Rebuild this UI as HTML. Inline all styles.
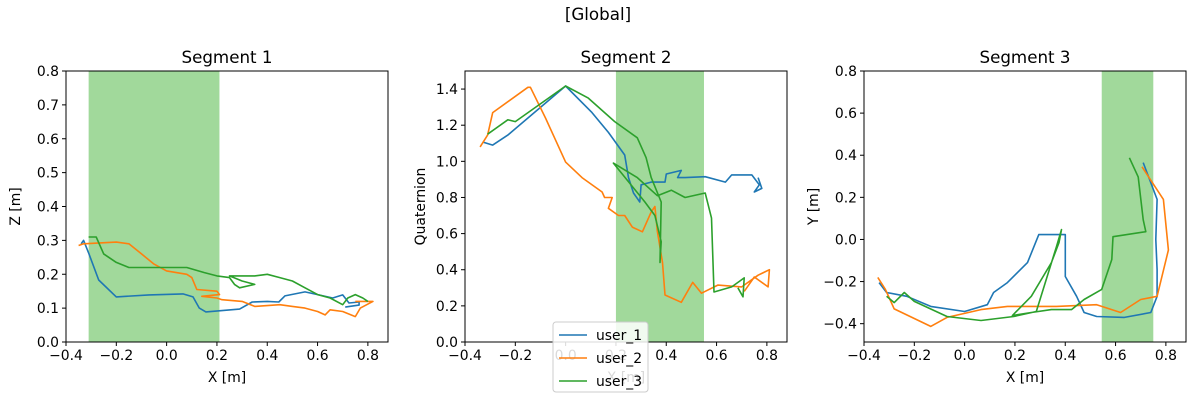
<!DOCTYPE html>
<html><head><meta charset="utf-8"><style>
body{margin:0;background:#fff;}
svg{display:block;font-family:"DejaVu Sans","Liberation Sans",sans-serif;}
</style></head><body>
<svg id="fig" width="1200" height="400" xmlns="http://www.w3.org/2000/svg">
<text x="598" y="20" font-size="16.7" text-anchor="middle">[Global]</text>
</svg>
<script>
const xTicks=[-0.4,-0.2,0.0,0.2,0.4,0.6,0.8];
const yTicks1=[0.0,0.1,0.2,0.3,0.4,0.5,0.6,0.7,0.8];
const yTicks2=[0.0,0.2,0.4,0.6,0.8,1.0,1.2,1.4];
const yTicks3=[-0.4,-0.2,0.0,0.2,0.4,0.6,0.8];
const seriesNames=["user_1","user_2","user_3"];
const colors=["#1f77b4","#ff7f0e","#2ca02c"];
const spans=[[-0.31,0.21],[0.2,0.55],[0.545,0.75]];
const s1u1=[[-0.34,0.29],[-0.33,0.3],[-0.31,0.263],[-0.27,0.183],[-0.2,0.133],[-0.07,0.139],[0.065,0.142],[0.105,0.133],[0.13,0.1],[0.156,0.089],[0.29,0.097],[0.34,0.118],[0.4,0.12],[0.446,0.118],[0.47,0.136],[0.55,0.148],[0.605,0.139],[0.66,0.13],[0.7,0.139],[0.725,0.115],[0.765,0.118],[0.765,0.109],[0.71,0.103]];
const s1u2=[[-0.35,0.285],[-0.33,0.29],[-0.2,0.295],[-0.15,0.29],[-0.1,0.26],[-0.05,0.23],[0.0,0.21],[0.08,0.2],[0.1,0.19],[0.12,0.155],[0.2,0.15],[0.21,0.14],[0.14,0.135],[0.2,0.13],[0.22,0.125],[0.3,0.12],[0.35,0.105],[0.45,0.11],[0.5,0.105],[0.55,0.1],[0.6,0.09],[0.63,0.08],[0.65,0.095],[0.7,0.09],[0.75,0.075],[0.77,0.1],[0.82,0.12],[0.75,0.12]];
const s1u3=[[-0.31,0.31],[-0.28,0.31],[-0.25,0.26],[-0.2,0.235],[-0.15,0.22],[0.0,0.22],[0.08,0.22],[0.15,0.205],[0.2,0.195],[0.25,0.19],[0.27,0.17],[0.29,0.16],[0.35,0.17],[0.3,0.18],[0.25,0.195],[0.35,0.195],[0.4,0.2],[0.45,0.19],[0.5,0.18],[0.55,0.16],[0.6,0.14],[0.65,0.13],[0.7,0.11],[0.72,0.13],[0.75,0.14],[0.78,0.13],[0.8,0.12]];
const s2u1=[[-0.33,1.107],[-0.29,1.09],[-0.23,1.145],[0.0,1.417],[0.105,1.27],[0.17,1.16],[0.235,1.035],[0.25,0.91],[0.27,0.825],[0.295,0.775],[0.3,0.87],[0.34,0.885],[0.395,0.885],[0.4,0.93],[0.46,0.95],[0.445,0.91],[0.475,0.91],[0.555,0.915],[0.635,0.885],[0.66,0.925],[0.74,0.925],[0.77,0.87],[0.75,0.83],[0.78,0.85],[0.765,0.91]];
const s2u2=[[-0.34,1.08],[-0.31,1.145],[-0.29,1.27],[-0.15,1.41],[-0.14,1.41],[-0.08,1.24],[0.0,0.996],[0.065,0.91],[0.145,0.83],[0.155,0.8],[0.185,0.8],[0.17,0.74],[0.21,0.7],[0.235,0.7],[0.265,0.636],[0.305,0.61],[0.34,0.72],[0.355,0.75],[0.365,0.61],[0.385,0.44],[0.395,0.26],[0.46,0.22],[0.505,0.33],[0.54,0.27],[0.605,0.315],[0.7,0.305],[0.765,0.37],[0.81,0.4],[0.805,0.305],[0.75,0.36],[0.71,0.28]];
const s2u3=[[-0.31,1.15],[-0.23,1.23],[-0.2,1.22],[0.0,1.417],[0.09,1.35],[0.195,1.22],[0.285,1.13],[0.32,1.02],[0.34,0.91],[0.38,0.775],[0.375,0.44],[0.38,0.555],[0.355,0.7],[0.315,0.775],[0.19,0.99],[0.285,0.91],[0.365,0.81],[0.42,0.84],[0.475,0.8],[0.555,0.825],[0.58,0.686],[0.59,0.277],[0.66,0.305],[0.71,0.355],[0.705,0.25],[0.685,0.3]];
const s3u1=[[-0.34,-0.205],[-0.31,-0.252],[-0.23,-0.27],[-0.135,-0.318],[0.0,-0.342],[0.09,-0.31],[0.115,-0.252],[0.17,-0.205],[0.25,-0.11],[0.295,0.023],[0.4,0.023],[0.4,-0.176],[0.445,-0.27],[0.475,-0.347],[0.525,-0.366],[0.635,-0.37],[0.74,-0.347],[0.765,-0.27],[0.765,-0.143],[0.76,0.0],[0.765,0.19],[0.71,0.365]];
const s3u2=[[-0.345,-0.18],[-0.315,-0.237],[-0.28,-0.33],[-0.135,-0.413],[-0.07,-0.37],[0.065,-0.333],[0.17,-0.318],[0.365,-0.318],[0.525,-0.31],[0.62,-0.347],[0.7,-0.285],[0.765,-0.27],[0.81,-0.05],[0.79,0.19],[0.705,0.345]];
const s3u3=[[-0.31,-0.27],[-0.28,-0.3],[-0.24,-0.252],[-0.2,-0.294],[-0.07,-0.366],[0.065,-0.385],[0.195,-0.366],[0.285,-0.342],[0.365,-0.035],[0.385,0.047],[0.375,-0.015],[0.345,-0.11],[0.265,-0.27],[0.19,-0.361],[0.265,-0.347],[0.345,-0.333],[0.425,-0.333],[0.475,-0.285],[0.545,-0.237],[0.585,-0.095],[0.59,0.013],[0.72,0.037],[0.71,0.094],[0.69,0.297],[0.655,0.388]];

const NS="http://www.w3.org/2000/svg";
const svg=document.getElementById('fig');
function mk(tag,attrs,parent){const e=document.createElementNS(NS,tag);for(const k in attrs)e.setAttribute(k,attrs[k]);(parent||svg).appendChild(e);return e;}
const panels=[
 {left:66,title:"Segment 1",ylab:"Z [m]",yMin:0,yMax:0.8,yTicks:yTicks1,dec:1,data:[s1u1,s1u2,s1u3]},
 {left:465,title:"Segment 2",ylab:"Quaternion",yMin:0,yMax:1.5,yTicks:yTicks2,dec:1,data:[s2u1,s2u2,s2u3]},
 {left:864,title:"Segment 3",ylab:"Y [m]",yMin:-0.487,yMax:0.8,yTicks:yTicks3,dec:1,data:[s3u1,s3u2,s3u3]}
];
const plotTop=71,plotBottom=342,W=322,xMin=-0.4,xMax=0.88;
panels.forEach((p,i)=>{
 const g=mk('g',{});
 
 
 const X=v=>p.left+(v-xMin)/(xMax-xMin)*W;
 const Y=v=>plotBottom-(v-p.yMin)/(p.yMax-p.yMin)*(plotBottom-plotTop);
 const sp=mk('rect',{x:X(spans[i][0]),y:plotTop,width:X(spans[i][1])-X(spans[i][0]),height:plotBottom-plotTop,fill:'#a1d99b'},g);
 
 
 p.data.forEach((d,j)=>{
  const pl=mk('polyline',{points:d.map(q=>X(q[0]).toFixed(1)+','+Y(q[1]).toFixed(1)).join(' '),fill:'none',stroke:colors[j],'stroke-width':1.6,'stroke-linejoin':'round'},g);
  
  
 });
 const fr=mk('rect',{x:p.left,y:plotTop,width:W,height:plotBottom-plotTop,fill:'none',stroke:'#000','stroke-width':1},g);
 
 
 xTicks.forEach(t=>{
  const x=X(t);
  mk('line',{x1:x,x2:x,y1:plotBottom,y2:plotBottom+4,stroke:'#000'},g);
  const tx=mk('text',{x:x,y:plotBottom+18,'font-size':13.9,'text-anchor':'middle'},g);
  tx.textContent=(t<0?'−':'')+Math.abs(t).toFixed(1);
  
  
 });
 p.yTicks.forEach(t=>{
  const y=Y(t);
  mk('line',{x1:p.left-4,x2:p.left,y1:y,y2:y,stroke:'#000'},g);
  const tx=mk('text',{x:p.left-7,y:y+5,'font-size':13.9,'text-anchor':'end'},g);
  tx.textContent=(t<0?'−':'')+Math.abs(t).toFixed(p.dec);
  
  
 });
 const tt=mk('text',{x:p.left+W/2,y:63,'font-size':16.7,'text-anchor':'middle'},g);
 tt.textContent=p.title;
 
 
 const xl=mk('text',{x:p.left+W/2,y:382,'font-size':13.9,'text-anchor':'middle'},g);
 xl.textContent="X [m]";
 
 
 const yx=p.left-(i==1?40:46);
 const yl=mk('text',{x:yx,y:(plotTop+plotBottom)/2,'font-size':13.9,'text-anchor':'middle',transform:'rotate(-90 '+yx+' '+(plotTop+plotBottom)/2+')'},g);
 yl.textContent=p.ylab;
 
 
});
const lg=mk('g',{});


mk('rect',{x:553,y:322,width:95,height:70,rx:3,fill:'#fff','fill-opacity':0.85,stroke:'#ccc'},lg);
seriesNames.forEach((n,j)=>{
 const y=335+j*23;
 const ln=mk('line',{x1:559,x2:587,y1:y,y2:y,stroke:colors[j],'stroke-width':1.6},lg);
 
 
 const t=mk('text',{x:596,y:y+5,'font-size':13.9},lg);
 t.textContent=n;
 
 
});
</script>
</body></html>
